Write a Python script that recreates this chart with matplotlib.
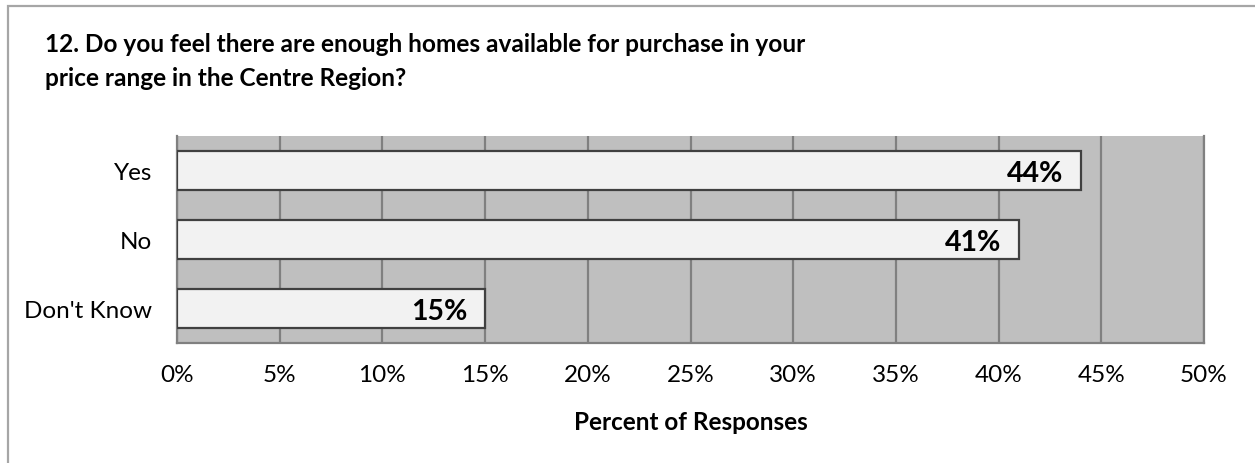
import matplotlib.pyplot as plt
from matplotlib.patches import Rectangle

categories = ["Yes", "No", "Don't Know"]
percents = [44, 41, 15]
xticks = [0, 5, 10, 15, 20, 25, 30, 35, 40, 45, 50]

plt.rcParams['font.family'] = ['Lato', 'DejaVu Sans']

fig = plt.figure(figsize=(12.55, 4.64), dpi=100)
ax = fig.add_axes([177 / 1255, 1 - 344 / 464, (1204 - 177) / 1255, (344 - 137) / 464])

# outer frame of the chart
fig.patches.append(Rectangle((8 / 1255, -0.1), 1.2, 1 - 7 / 464 + 0.1,
                             transform=fig.transFigure, fill=False,
                             edgecolor='#a6a6a6', linewidth=1.6))

ax.set_facecolor('#bfbfbf')
ypos = list(range(len(categories)))
ax.barh(ypos, percents, height=0.565, color='#f2f2f2', edgecolor='#404040',
        linewidth=1.6, zorder=3)

for y, v in zip(ypos, percents):
    ax.text(v - 0.85, y, f"{v}%", ha='right', va='center_baseline',
            fontsize=20.5, fontweight='bold', color='black', zorder=4)

ax.set_xlim(0, 50)
ax.set_ylim(2.5, -0.5)
ax.set_xticks(xticks)
ax.set_xticklabels([f"{t}%" for t in xticks], fontsize=17.5)
ax.set_yticks(ypos)
ax.set_yticklabels(categories, fontsize=17.5)
ax.tick_params(axis='both', length=0, colors='black')
ax.tick_params(axis='x', pad=15)
ax.tick_params(axis='y', pad=18)

ax.grid(axis='x', color='#808080', linewidth=1.6, zorder=1)
ax.set_axisbelow(True)
for side in ['left', 'bottom', 'right']:
    ax.spines[side].set_color('#808080')
    ax.spines[side].set_linewidth(1.6)
ax.spines['top'].set_visible(False)

ax.set_xlabel("Percent of Responses", fontsize=17.5, fontweight='bold', labelpad=18)

fig.text(45 / 1255, 1 - 33 / 464,
         "12. Do you feel there are enough homes available for purchase in your\nprice range in the Centre Region?",
         ha='left', va='top', fontsize=17.6, fontweight='bold', linespacing=1.6)

fig.savefig('out.png', dpi=100)
